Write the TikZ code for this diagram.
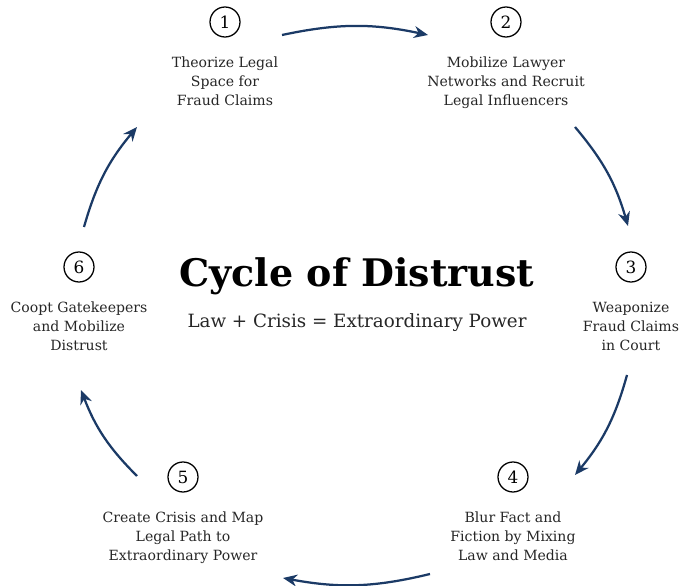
\documentclass[tikz,border=0pt]{standalone}
\usepackage{fontspec}
\setmainfont{DejaVu Serif}
\usepackage{tikz}
\usetikzlibrary{arrows,arrows.meta,positioning}
\definecolor{navy}{HTML}{1B3A66}
\definecolor{ink}{HTML}{262626}
\tikzstyle{stepnum} =[circle, draw=black, line width=0.9pt,
                      minimum size=0.75cm, inner sep=0pt,
                      font=\fontsize{12}{12}\selectfont]
\tikzstyle{steptext}=[align=center, inner sep=0pt, text=ink,
                      font=\fontsize{10}{13.5}\selectfont]
\tikzstyle{flow}    =[->, >={Stealth[length=10pt,width=8.5pt]},
                      draw=navy, line width=1.6pt]

\begin{document}
\begin{tikzpicture}[x=0.025cm, y=0.025cm, node distance=0.47cm]
            \useasboundingbox (0,0) rectangle (679,586);
            \node (n1) [stepnum] at (225,564) {1};
            \node (n2) [stepnum] at (506,564) {2};
            \node (n3) [stepnum] at (631,319) {3};
            \node (n4) [stepnum] at (513,109) {4};
            \node (n5) [stepnum] at (183,109) {5};
            \node (n6) [stepnum] at (79,319) {6};
            \node (t1) [steptext, below=of n1, anchor=north] {Theorize Legal\\Space for\\Fraud Claims};
            \node (t2) [steptext, below=of n2, anchor=north] {Mobilize Lawyer\\Networks and Recruit\\Legal Influencers};
            \node (t3) [steptext, below=of n3, anchor=north] {Weaponize\\Fraud Claims\\in Court};
            \node (t4) [steptext, below=of n4, anchor=north] {Blur Fact and\\Fiction by Mixing\\Law and Media};
            \node (t5) [steptext, below=of n5, anchor=north] {Create Crisis and Map\\Legal Path to\\Extraordinary Power};
            \node (t6) [steptext, below=of n6, anchor=north] {Coopt Gatekeepers\\and Mobilize\\Distrust};
            \node (title) at (357,310) {\fontsize{27}{27}\selectfont\bfseries Cycle of Distrust};
            \node (sub) [text=ink] at (357,263) {\fontsize{13}{13}\selectfont Law + Crisis = Extraordinary Power};
            % arrow ends
            \coordinate (a1s) at (282,551);
            \coordinate (a1e) at (428,551);
            \coordinate (a2s) at (575,459);
            \coordinate (a2e) at (628,360);
            \coordinate (a3s) at (627,211);
            \coordinate (a3e) at (575,111);
            \coordinate (a4s) at (430,12);
            \coordinate (a4e) at (283,8);
            \coordinate (a5s) at (137,110);
            \coordinate (a5e) at (81,196);
            \coordinate (a6s) at (84,359);
            \coordinate (a6e) at (137,459);
            \draw[flow] (a1s) to[bend left=12] (a1e);
            \draw[flow] (a2s) to[bend left=12] (a2e);
            \draw[flow] (a3s) to[bend left=12] (a3e);
            \draw[flow] (a4s) to[bend left=12] (a4e);
            \draw[flow] (a5s) to[bend left=12] (a5e);
            \draw[flow] (a6s) to[bend left=12] (a6e);

        \end{tikzpicture}
\end{document}
